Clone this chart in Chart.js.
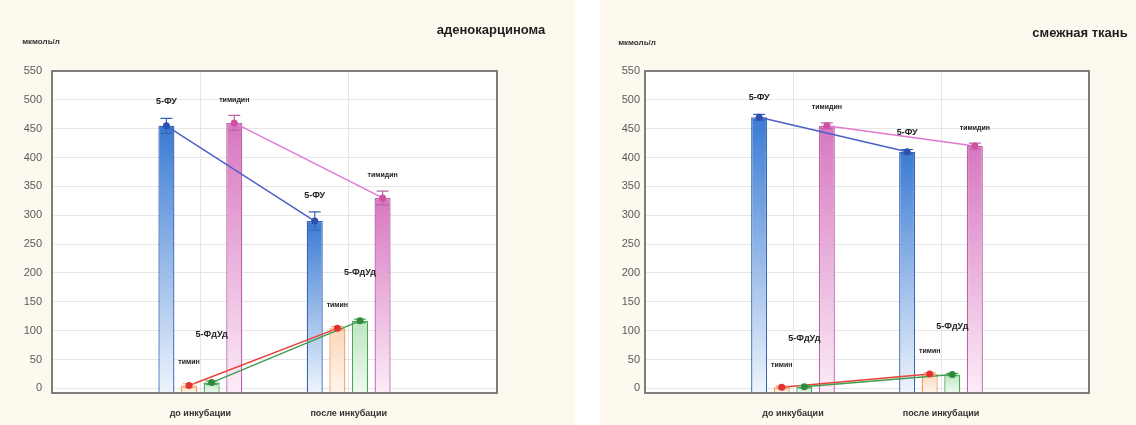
<!DOCTYPE html>
<html>
<head>
<meta charset="utf-8">
<script src="https://cdn.jsdelivr.net/npm/chart.js@4.4.1/dist/chart.umd.min.js"></script>
<style>
  html, body { margin: 0; padding: 0; background: #fff; }
  body { width: 1136px; height: 425px; position: relative; overflow: hidden; }
  .panel { position: absolute; top: 0; height: 425px; background: #fdf9ef; }
  #leftPanel { left: 0; width: 575px; }
  #rightPanel { left: 600px; width: 536px; }
</style>
</head>
<body>
<div class="panel" id="leftPanel"><canvas id="adenoChart" width="575" height="425"></canvas></div>
<div class="panel" id="rightPanel"><canvas id="adjChart" width="536" height="425"></canvas></div>
<script>
// categories (empty slots at both ends so the groups sit at 1/3 and 2/3)
const categories = ["", "до инкубации", "после инкубации", ""];
const seriesNames = ["5-ФУ", "тимин", "5-ФдУд", "тимидин"];
const yTicks = [0, 50, 100, 150, 200, 250, 300, 350, 400, 450, 500, 550];
const yMin = -8;
const yMax = 550;

// аденокарцинома, мкмоль/л
const adenoFU = [null, 455, 290, null];
const adenoThymine = [null, 5, 104, null];
const adenoFdUrd = [null, 10, 117, null];
const adenoThymidine = [null, 460, 330, null];
const adenoFUErr = [null, 13, 16, null];
const adenoThymineErr = [null, 3, 3, null];
const adenoFdUrdErr = [null, 3, 3, null];
const adenoThymidineErr = [null, 13, 12, null];

// смежная ткань, мкмоль/л
const adjFU = [null, 470, 410, null];
const adjThymine = [null, 2, 25, null];
const adjFdUrd = [null, 3, 24, null];
const adjThymidine = [null, 455, 420, null];
const adjFUErr = [null, 5, 4, null];
const adjThymineErr = [null, 2, 2, null];
const adjFdUrdErr = [null, 2, 2, null];
const adjThymidineErr = [null, 5, 5, null];

const barTop = ["#3a7bd4", "#fbd6b8", "#bde5c0", "#d777c0"];
const barBottom = ["#eef4fc", "#fff6ee", "#f1faf1", "#fcecf7"];
const barBorder = ["#3a64b4", "#ee9c62", "#4aa65a", "#b965aa"];
const lineColors = ["#4c5fc7", "#e8403a", "#3e9e4e", "#e07ad0"];
const markerColors = ["#2c4fb0", "#e23232", "#2f8a3c", "#d0509f"];
const labelGap = [12, 18, 42, 12];
const labelSize = [9, 7, 9, 7];

function vGrad(i) {
  return ctx => {
    const chart = ctx.chart;
    if (!chart.chartArea || ctx.type !== "data" || ctx.raw == null) return barTop[i];
    const y = chart.scales.y;
    const g = chart.ctx.createLinearGradient(0, y.getPixelForValue(ctx.raw), 0, y.getPixelForValue(yMin));
    g.addColorStop(0, barTop[i]);
    g.addColorStop(1, barBottom[i]);
    return g;
  };
}

const overlay = {
  id: "overlay",
  beforeDraw(chart) {
    const { ctx, chartArea: a } = chart;
    ctx.save();
    ctx.fillStyle = "#fff";
    ctx.fillRect(a.left, a.top, a.right - a.left, a.bottom - a.top);
    ctx.restore();
  },
  afterDatasetsDraw(chart, args, opts) {
    const ctx = chart.ctx;
    const y = chart.scales.y;
    const a = chart.chartArea;
    ctx.save();
    // connecting lines
    chart.data.datasets.forEach((ds, i) => {
      const meta = chart.getDatasetMeta(i);
      ctx.beginPath();
      let first = true;
      ds.data.forEach((v, j) => {
        if (v == null) return;
        const px = meta.data[j].x, py = y.getPixelForValue(v);
        if (first) { ctx.moveTo(px, py); first = false; } else ctx.lineTo(px, py);
      });
      ctx.strokeStyle = lineColors[i];
      ctx.lineWidth = 1.5;
      ctx.stroke();
    });
    // error bars, markers, labels
    chart.data.datasets.forEach((ds, i) => {
      const meta = chart.getDatasetMeta(i);
      const errs = opts.errors[i];
      ds.data.forEach((v, j) => {
        if (v == null) return;
        const px = meta.data[j].x;
        const yt = y.getPixelForValue(v + errs[j]);
        const yb = y.getPixelForValue(v - errs[j]);
        ctx.strokeStyle = barBorder[i];
        ctx.lineWidth = 1.2;
        ctx.beginPath();
        ctx.moveTo(px, yt); ctx.lineTo(px, yb);
        ctx.moveTo(px - 6, yt); ctx.lineTo(px + 6, yt);
        ctx.moveTo(px - 6, yb); ctx.lineTo(px + 6, yb);
        ctx.stroke();
        ctx.fillStyle = markerColors[i];
        ctx.beginPath();
        ctx.arc(px, y.getPixelForValue(v), 3.5, 0, Math.PI * 2);
        ctx.fill();
        ctx.fillStyle = "#222";
        ctx.font = "bold " + labelSize[i] + "px 'Liberation Sans', Arial, sans-serif";
        ctx.textAlign = "center";
        ctx.textBaseline = "bottom";
        ctx.fillText(seriesNames[i], px, yt - labelGap[i]);
      });
    });
    // plot frame
    ctx.strokeStyle = "#7d7d7d";
    ctx.lineWidth = 2;
    ctx.strokeRect(a.left, a.top, a.right - a.left, a.bottom - a.top);
    // title and unit
    ctx.fillStyle = "#1e1e1e";
    ctx.textAlign = "center";
    ctx.textBaseline = "middle";
    ctx.font = "bold 13px 'Liberation Sans', Arial, sans-serif";
    ctx.fillText(opts.title, opts.titleX, opts.titleY);
    ctx.font = "bold 8px 'Liberation Sans', Arial, sans-serif";
    ctx.fillStyle = "#333";
    ctx.fillText("мкмоль/л", opts.unitX, opts.unitY);
    ctx.restore();
  }
};

function makeChart(id, series, errors, geo) {
  new Chart(document.getElementById(id), {
    type: "bar",
    data: {
      labels: categories,
      datasets: series.map((data, i) => ({
        label: seriesNames[i],
        data: data,
        base: yMin,
        backgroundColor: vGrad(i),
        borderColor: barBorder[i],
        borderWidth: 1.3,
        categoryPercentage: 0.61,
        barPercentage: 0.71
      }))
    },
    options: {
      responsive: false,
      animation: false,
      devicePixelRatio: 1,
      layout: { padding: { left: 0, right: geo.padRight, top: 71, bottom: 0 } },
      plugins: {
        legend: { display: false },
        tooltip: { enabled: false },
        overlay: {
          errors: errors,
          title: geo.title, titleX: geo.titleX, titleY: geo.titleY,
          unitX: geo.unitX, unitY: geo.unitY
        }
      },
      scales: {
        x: {
          offset: false,
          grid: { offset: false, color: "#e6e6e6", drawTicks: false },
          border: { display: false },
          ticks: {
            autoSkip: false, maxRotation: 0, padding: 15, color: "#333",
            font: { family: "'Liberation Sans', Arial, sans-serif", size: 9, weight: "bold" }
          },
          afterFit: s => { s.height = 32; }
        },
        y: {
          min: yMin,
          max: yMax,
          grid: { color: "#e6e6e6", drawTicks: false },
          border: { display: false },
          afterBuildTicks: s => { s.ticks = yTicks.map(v => ({ value: v })); },
          ticks: {
            padding: geo.tickPad, color: "#5a5a5a",
            font: { family: "'Liberation Sans', Arial, sans-serif", size: 11 }
          },
          afterFit: s => { s.width = geo.axisWidth; }
        }
      }
    },
    plugins: [overlay]
  });
}

makeChart("adenoChart",
  [adenoFU, adenoThymine, adenoFdUrd, adenoThymidine],
  [adenoFUErr, adenoThymineErr, adenoFdUrdErr, adenoThymidineErr],
  { padRight: 78, axisWidth: 52, tickPad: 10, title: "аденокарцинома", titleX: 491, titleY: 30, unitX: 41, unitY: 42 });

makeChart("adjChart",
  [adjFU, adjThymine, adjFdUrd, adjThymidine],
  [adjFUErr, adjThymineErr, adjFdUrdErr, adjThymidineErr],
  { padRight: 47, axisWidth: 45, tickPad: 5, title: "смежная ткань", titleX: 480, titleY: 33, unitX: 37, unitY: 43 });
</script>
</body>
</html>
